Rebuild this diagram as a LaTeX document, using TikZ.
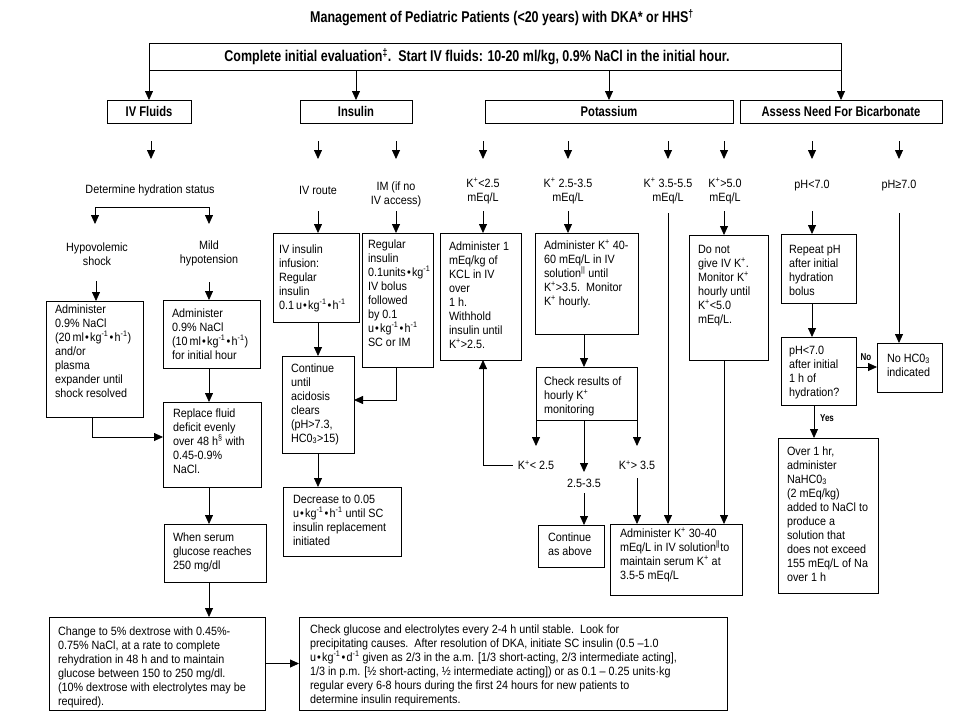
\documentclass[tikz,border=0pt]{standalone}
\usepackage{fontspec}
\setmainfont{Liberation Sans}
\newfontfamily\bodyf{Liberation Sans}[FakeStretch=0.9]
\newfontfamily\headf{Liberation Sans}[FakeStretch=0.8]
\usetikzlibrary{arrows.meta,calc}
\newcommand\Kp{K\textsuperscript{+}}
\newcommand\inv{\textsuperscript{-1}}
\newcommand\bt{\kern1.2pt\textbullet\kern1.2pt}
\newcommand\bx[8]{%
  \node[bx, minimum width=#4pt, minimum height=#5pt, anchor=north west] (#1) at (#2,#3) {};
  \node[txt, anchor=north west] (#1-t) at ([xshift=#6pt,yshift=-#7pt]#1.north west) {\rule{0pt}{10pt}#8};
}
\begin{document}
\begin{tikzpicture}[x=1pt,y=-1pt,
  bx/.style={draw, line width=0.9pt, inner sep=0pt, outer sep=0pt},
  txt/.style={font=\bodyf\fontsize{12}{14}\selectfont, inner sep=0pt, outer sep=0pt, align=left},
  lbl/.style={font=\bodyf\fontsize{12}{14}\selectfont, inner sep=0pt, align=center},
  hd/.style={font=\headf\bfseries\fontsize{14}{16}\selectfont},
  ttl/.style={font=\headf\bfseries\fontsize{15.6}{18}\selectfont, inner sep=0pt},
  yn/.style={font=\headf\bfseries\fontsize{10}{12}\selectfont, inner sep=0pt},
  ln/.style={line width=0.8pt},
  arr/.style={ln, -{Triangle[length=9pt,width=8pt]}}]
\fill[white] (0,0) rectangle (960,720);
\useasboundingbox (0,0) rectangle (960,720);

% title and top box
\node[ttl] (title) at (502,18) {Management of Pediatric Patients (<20 years) with DKA* or HHS\textsuperscript{†}};
\node[bx, minimum width=692pt, minimum height=27pt, anchor=north west] (top) at (149,43) {};
\node[ttl] (toptext) at (477,57) {Complete initial evaluation\textsuperscript{‡}.\ \ Start IV fluids: 10-20 ml/kg, 0.9\% NaCl in the initial hour.};

% headings
\node[bx, hd, minimum width=84pt, minimum height=23pt, anchor=north west] (ivf) at (107,100) {IV Fluids};
\node[bx, hd, minimum width=112pt, minimum height=23pt, anchor=north west] (ins) at (300,100) {Insulin};
\node[bx, hd, minimum width=248pt, minimum height=23pt, anchor=north west] (pot) at (485,100) {Potassium};
\node[bx, hd, minimum width=202pt, minimum height=23pt, anchor=north west] (ass) at (740,100) {Assess Need For Bicarbonate};
\draw[arr] (top.north west) -- (top.north west |- ivf.north);
\draw[arr] (top.north east) -- (top.north east |- ass.north);
\draw[arr] (ins.north |- top.south) -- (ins.north);
\draw[arr] (pot.north |- top.south) -- (pot.north);

% ---------- IV fluids column
\coordinate (cF) at (209,0);
\coordinate (f1a) at (151,141); \coordinate (f1b) at (151,159);
\draw[arr] (f1a) -- (f1b);
\node[lbl] (dht) at (150,190) {Determine hydration status};
\coordinate (brL) at (95,207); \coordinate (brR) at (209,207);
\coordinate (brLb) at (95,224); \coordinate (brRb) at (209,224);
\draw[ln] (brL) -- (brR);
\draw[arr] (brL) -- (brLb);
\draw[arr] (brR) -- (brRb);
\node[lbl] (hs) at (97,254) {Hypovolemic\\shock};
\node[lbl] (mh) at (209,253) {Mild\\hypotension};
\bx{shock}{46}{301}{97}{116}{9}{2}{Administer\\0.9\% NaCl\\(20\,ml\bt kg\inv\bt h\inv)\\and/or\\plasma\\expander until\\shock resolved}
\bx{mild}{163}{300}{97}{68}{9}{7}{Administer\\0.9\% NaCl\\(10\,ml\bt kg\inv\bt h\inv)\\for initial hour}
\coordinate (hsa) at (96,281); \draw[arr] (hsa) -- (hsa |- shock.north);
\coordinate (mha) at (209,282); \draw[arr] (mha) -- (mha |- mild.north);
\bx{repl}{163}{402}{98}{85}{10}{5}{Replace fluid\\deficit evenly\\over 48 h\textsuperscript{§} with\\0.45-0.9\%\\NaCl.}
\draw[arr] (mild.south -| cF) -- (repl.north -| cF);
\coordinate (cS) at (92,0); \coordinate (yS) at (0,437);
\draw[arr] (shock.south -| cS) |- (repl.west |- yS);
\bx{when}{164}{524}{102}{58}{9}{7}{When serum\\glucose reaches\\250 mg/dl}
\draw[arr] (repl.south -| cF) -- (when.north -| cF);
\bx{chg}{49}{617}{216}{93}{9}{8}{Change to 5\% dextrose with 0.45\%-\\0.75\% NaCl, at a rate to complete\\rehydration in 48 h and to maintain\\glucose between 150 to 250 mg/dl.\\(10\% dextrose with electrolytes may be\\required).}
\draw[arr] (when.south -| cF) -- (chg.north -| cF);
\bx{chk}{299}{617}{428}{93}{11}{6}{Check glucose and electrolytes every 2-4 h until stable.\ \ Look for\\precipitating causes.\ \ After resolution of DKA, initiate SC insulin (0.5 –1.0\\u\bt kg\inv\bt d\inv\ given as 2/3 in the a.m. [1/3 short-acting, 2/3 intermediate acting],\\1/3 in p.m. [½ short-acting, ½ intermediate acting]) or as 0.1 – 0.25 units·kg\\regular every 6-8 hours during the first 24 hours for new patients to\\determine insulin requirements.}
\draw[arr] (chg.east) -- (chk.west |- chg.east);

% ---------- Insulin column
\coordinate (cI1) at (318,0); \coordinate (cI2) at (396,0);
\coordinate (i1a) at (318,141); \coordinate (i1b) at (318,159);
\coordinate (i2a) at (396,141); \coordinate (i2b) at (396,159);
\draw[arr] (i1a) -- (i1b);
\draw[arr] (i2a) -- (i2b);
\node[lbl] (ivr) at (318,190) {IV route};
\node[lbl] (imr) at (396,194) {IM (if no\\IV access)};
\bx{ivins}{273}{233}{86}{89}{6}{10}{IV insulin\\infusion:\\Regular\\insulin\\0.1\,u\bt kg\inv\bt h\inv}
\bx{reg}{362}{233}{71}{134}{6}{5}{Regular\\insulin\\0.1units\bt kg\inv\\IV bolus\\followed\\by 0.1\\u\bt kg\inv\bt h\inv\\SC or IM}
\coordinate (i1c) at (318,211); \draw[arr] (i1c) -- (ivins.north -| i1c);
\coordinate (i2c) at (396,211); \draw[arr] (i2c) -- (reg.north -| i2c);
\bx{cont}{282}{356}{72}{97}{9}{6}{Continue\\until\\acidosis\\clears\\(pH>7.3,\\HC0\textsubscript{3}>15)}
\draw[arr] (ivins.south -| cI1) -- (cont.north -| cI1);
\coordinate (yR) at (0,400);
\draw[arr] (reg.south -| cI2) |- (cont.east |- yR);
\bx{dec}{283}{487}{118}{69}{10}{6}{Decrease to 0.05\\u\bt kg\inv\bt h\inv\ until SC\\insulin replacement\\initiated}
\draw[arr] (cont.south -| cI1) -- (dec.north -| cI1);

% ---------- Potassium column
\coordinate (p1a) at (483,141); \coordinate (p1b) at (483,159);
\coordinate (p2a) at (568,141); \coordinate (p2b) at (568,159);
\coordinate (p3a) at (668,141); \coordinate (p3b) at (668,159);
\coordinate (p4a) at (724,141); \coordinate (p4b) at (724,159);
\draw[arr] (p1a) -- (p1b);
\draw[arr] (p2a) -- (p2b);
\draw[arr] (p3a) -- (p3b);
\draw[arr] (p4a) -- (p4b);
\node[lbl] (k1) at (483,191) {\Kp<2.5\\mEq/L};
\node[lbl] (k2) at (568,191) {\Kp\ 2.5-3.5\\mEq/L};
\node[lbl] (k3) at (668,191) {\Kp\ 3.5-5.5\\mEq/L};
\node[lbl] (k4) at (725,191) {\Kp>5.0\\mEq/L};
\bx{adm1}{440}{233}{81}{127}{9}{7}{Administer 1\\mEq/kg of\\KCL in IV\\over\\1 h.\\Withhold\\insulin until\\\Kp>2.5.}
\bx{k46}{535}{233}{103}{101}{9}{6}{Administer \Kp\ 40-\\60 mEq/L in IV\\solution\textsuperscript{||} until\\\Kp>3.5.\ \ Monitor\\\Kp\ hourly.}
\bx{dng}{689}{235}{79}{125}{9}{8}{Do not\\give IV \Kp.\\Monitor \Kp\\hourly until\\\Kp<5.0\\mEq/L.}
\bx{chr}{536}{367}{101}{53}{8}{8}{Check results of\\hourly \Kp\\monitoring}
\bx{cab}{538}{525}{66}{42}{10}{6}{Continue\\as above}
\bx{k34}{610}{524}{132}{71}{10}{3}{Administer \Kp\ 30-40\\mEq/L in IV solution\textsuperscript{||}to\\maintain serum \Kp\ at\\3.5-5 mEq/L}
\coordinate (p1c) at (483,211); \draw[arr] (p1c) -- (adm1.north -| p1c);
\coordinate (p2c) at (568,211); \draw[arr] (p2c) -- (k46.north -| p2c);
\coordinate (p3c) at (668,213); \draw[arr] (p3c) -- (k34.north -| p3c);
\coordinate (p4c) at (724,211); \draw[arr] (p4c) -- (dng.north -| p4c);
\coordinate (cM) at (584,0);
\draw[arr] (k46.south -| cM) -- (chr.north -| cM);
\coordinate (y446) at (0,446); \coordinate (y472) at (0,472);
\draw[arr] (chr.south west) -- (chr.south west |- y446);
\draw[arr] (chr.south east) -- (chr.south east |- y446);
\draw[arr] (chr.south -| cM) -- (cM |- y472);
\node[lbl] (klt) at (536,465) {\Kp< 2.5};
\node[lbl] (kmid) at (584,483) {2.5-3.5};
\node[lbl] (kgt) at (637,465) {\Kp> 3.5};
\coordinate (cA1) at (483,0);
\draw[arr] ([xshift=-5pt]klt.west) -| (adm1.south -| cA1);
\coordinate (m1) at (584,493); \draw[arr] (m1) -- (cab.north -| m1);
\coordinate (g1) at (637,478); \draw[arr] (g1) -- (k34.north -| g1);
\draw[arr] (dng.south -| p4c) -- (k34.north -| p4c);

% ---------- Bicarbonate column
\coordinate (b1a) at (812,141); \coordinate (b1b) at (812,159);
\coordinate (b2a) at (899,141); \coordinate (b2b) at (899,159);
\draw[arr] (b1a) -- (b1b);
\draw[arr] (b2a) -- (b2b);
\node[lbl] (ph1) at (812,186) {pH<7.0};
\node[lbl] (ph2) at (899,186) {pH≥7.0};
\bx{rep}{781}{234}{75}{69}{8}{9}{Repeat pH\\after initial\\hydration\\bolus}
\bx{pha}{781}{337}{75}{68}{8}{7}{pH<7.0\\after initial\\1 h of\\hydration?}
\bx{nohc}{877}{343}{65}{49}{10}{9}{No HC0\textsubscript{3}\\indicated}
\bx{over}{778}{438}{100}{155}{9}{7}{Over 1 hr,\\administer\\NaHC0\textsubscript{3}\\(2 mEq/kg)\\added to NaCl to\\produce a\\solution that\\does not exceed\\155 mEq/L of Na\\over 1 h}
\coordinate (b1c) at (812,211); \draw[arr] (b1c) -- (rep.north -| b1c);
\draw[arr] (rep.south -| b1c) -- (pha.north -| b1c);
\coordinate (b2c) at (899,213); \draw[arr] (b2c) -- (nohc.north -| b2c);
\coordinate (y367) at (0,367);
\draw[arr] (pha.east |- y367) -- (nohc.west |- y367);
\node[yn] (no) at (866,357) {No};
\coordinate (cY) at (814,0);
\draw[arr] (pha.south -| cY) -- (over.north -| cY);
\node[yn] (yes) at (827,418) {Yes};
\end{tikzpicture}
\end{document}
